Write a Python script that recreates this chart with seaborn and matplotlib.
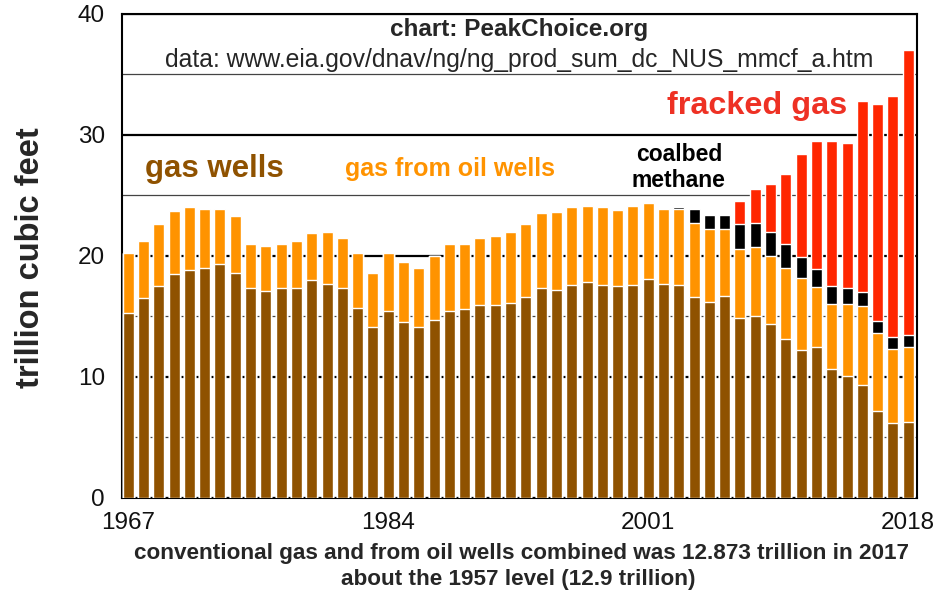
import numpy as np
import pandas as pd
import matplotlib
matplotlib.use("Agg")
import matplotlib.pyplot as plt
import seaborn as sns

# US natural gas withdrawals, trillion cubic feet
years = [str(y) for y in range(1967, 2019)]

gas_wells = [15.3, 16.5, 17.5, 18.5, 18.8, 19.0, 19.3, 18.6, 17.3, 17.1,
             17.35, 17.35, 18.0, 17.7, 17.3, 15.7, 14.1, 15.4, 14.5, 14.1,
             14.7, 15.4, 15.6, 15.95, 15.95, 16.1, 16.6, 17.3, 17.2, 17.6,
             17.8, 17.6, 17.5, 17.6, 18.1, 17.7, 17.6, 16.6, 16.15, 16.65,
             14.9, 15.05, 14.4, 13.15, 12.2, 12.45, 10.65, 10.1, 9.3, 7.2,
             6.15, 6.3]

oil_wells = [4.9, 4.7, 5.1, 5.2, 5.2, 4.9, 4.6, 4.7, 3.7, 3.75,
             3.65, 3.85, 3.85, 4.3, 4.2, 4.5, 4.5, 4.8, 5.0, 4.9,
             5.3, 5.55, 5.35, 5.55, 5.7, 5.9, 6.0, 6.2, 6.45, 6.4,
             6.3, 6.4, 6.3, 6.5, 6.3, 6.15, 6.25, 6.1, 6.05, 5.55,
             5.7, 5.65, 5.55, 5.85, 5.95, 4.95, 5.35, 5.9, 6.55, 6.4,
             6.15, 6.2]

coalbed = [0] * 36 + [0.15, 1.15, 1.2, 1.2, 2.0, 2.0, 2.05, 1.95, 1.75, 1.5,
                      1.5, 1.3, 1.15, 1.05, 1.0, 0.95]

shale = [0] * 40 + [1.95, 2.8, 3.95, 5.8, 8.5, 10.55, 11.95, 12.0, 15.8, 17.9,
                    19.9, 23.55]

df = pd.DataFrame({"year": years, "gas_wells": gas_wells, "oil_wells": oil_wells,
                   "coalbed": coalbed, "shale": shale})
df["lvl1"] = df["gas_wells"]
df["lvl2"] = df["lvl1"] + df["oil_wells"]
df["lvl3"] = df["lvl2"] + df["coalbed"]
df["lvl4"] = df["lvl3"] + df["shale"]

brown = "#8f5200"
orange = "#ff9300"
red = "#ff2600"

sns.set_style("white")
plt.rcParams["font.family"] = ["Liberation Sans", "DejaVu Sans"]

fig = plt.figure(figsize=(9.51, 5.97), dpi=100)
ax = fig.add_axes([0.128, 0.166, 0.836, 0.811])

# stacked bars: draw the tallest layer first, then cover it
for col, c in [("lvl4", red), ("lvl3", "black"), ("lvl2", orange), ("lvl1", brown)]:
    sns.barplot(data=df, x="year", y=col, color=c, width=0.72, errorbar=None,
                saturation=1, ax=ax, zorder=3)

ax.set_ylim(0, 40)
ax.set_xlim(-0.425, 51.56)
ax.set_yticks([0, 10, 20, 30, 40])
ax.set_yticks([5, 15, 25, 35], minor=True)
ax.grid(axis="y", which="major", color="black", lw=1.6, zorder=0)
ax.grid(axis="y", which="minor", color="#444444", lw=0.9, zorder=0)
ax.set_axisbelow(True)

ax.set_xticks([0, 17, 34, 51])
ax.set_xticklabels(["1967", "1984", "2001", "2018"])
ax.tick_params(axis="both", which="both", length=0, labelsize=17.5, colors="#111111")
ax.tick_params(axis="x", pad=10)
ax.tick_params(axis="y", pad=12)

for s in ax.spines.values():
    s.set_visible(True)
    s.set_color("black")
    s.set_linewidth(1.5)

ax.set_ylabel("")
ax.set_xlabel("")
fig.text(31 / 951, 1 - 258 / 597, "trillion cubic feet", rotation=90, ha="center",
         va="center", fontsize=23.5, fontweight="bold")
fig.text(521 / 951, 1 - 553 / 597,
         "conventional gas and from oil wells combined was 12.873 trillion in 2017",
         ha="center", va="center", fontsize=16.2, fontweight="bold")
fig.text(518 / 951, 1 - 580 / 597, "about the 1957 level (12.9 trillion)",
         ha="center", va="center", fontsize=16.2, fontweight="bold")

ax.text(0.5, 0.968, "chart: PeakChoice.org", transform=ax.transAxes, ha="center",
        va="center", fontsize=17.5, fontweight="bold")
ax.text(0.5, 0.905, "data: www.eia.gov/dnav/ng/ng_prod_sum_dc_NUS_mmcf_a.htm",
        transform=ax.transAxes, ha="center", va="center", fontsize=17.8)
ax.text(35.2, 32.4, "fracked gas", color="#ee3124", fontsize=23.3, fontweight="bold",
        ha="left", va="center")
ax.text(1.1, 27.2, "gas wells", color=brown, fontsize=22.5, fontweight="bold",
        ha="left", va="center")
ax.text(14.2, 27.2, "gas from oil wells", color=orange, fontsize=18, fontweight="bold",
        ha="left", va="center")
ax.text(36.0, 27.3, "coalbed\nmethane", color="black", fontsize=16.5, fontweight="bold",
        ha="center", va="center", linespacing=1.2)

fig.savefig("out.png", dpi=100)
